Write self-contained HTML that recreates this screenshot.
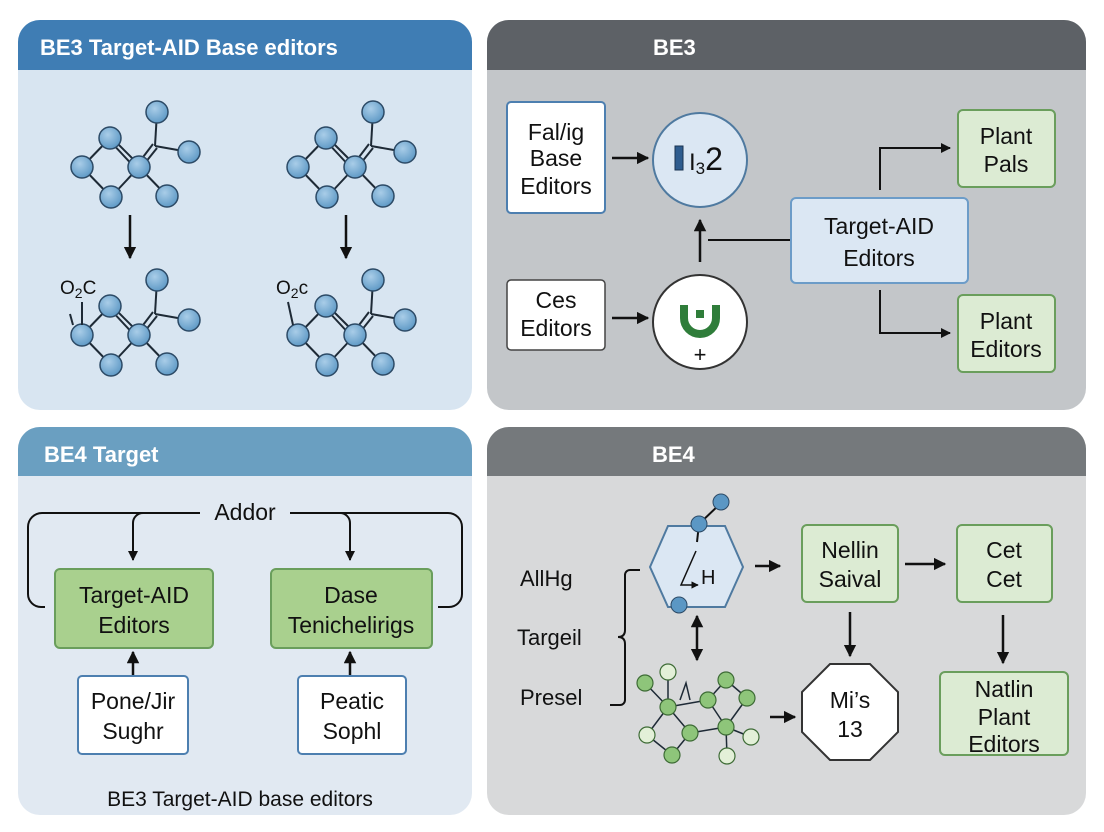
<!DOCTYPE html>
<html><head><meta charset="utf-8"><style>
body{margin:0;background:#fff;}
svg{display:block;}
text{font-family:"Liberation Sans",sans-serif;}
</style></head><body>
<svg width="1104" height="832" viewBox="0 0 1104 832" xmlns="http://www.w3.org/2000/svg">
<defs>
<marker id="ah" viewBox="0 0 10 10" refX="9" refY="5" markerWidth="5" markerHeight="5" orient="auto-start-reverse"><path d="M0,0 L10,5 L0,10 z" fill="#111"/></marker>
<radialGradient id="ab" cx="0.4" cy="0.35" r="0.7"><stop offset="0" stop-color="#a9cde8"/><stop offset="1" stop-color="#5b97c4"/></radialGradient>
<g id="mol">
<g stroke="#1e2a36" stroke-width="2" fill="none">
<line x1="82" y1="167" x2="110" y2="138"/>
<line x1="110" y1="136" x2="139" y2="165"/><line x1="110" y1="141" x2="137" y2="170"/>
<line x1="82" y1="167" x2="111" y2="197"/>
<line x1="111" y1="197" x2="139" y2="167"/>
<line x1="137" y1="165" x2="153" y2="144"/><line x1="141" y1="168" x2="157" y2="148"/>
<line x1="155" y1="146" x2="157" y2="112"/>
<line x1="155" y1="146" x2="189" y2="152"/>
<line x1="139" y1="167" x2="167" y2="196"/>
</g>
<g fill="url(#ab)" stroke="#2c4a66" stroke-width="1.5">
<circle cx="110" cy="138" r="11"/><circle cx="82" cy="167" r="11"/><circle cx="111" cy="197" r="11"/>
<circle cx="139" cy="167" r="11"/><circle cx="157" cy="112" r="11"/><circle cx="189" cy="152" r="11"/><circle cx="167" cy="196" r="11"/>
</g>
</g>
</defs>

<!-- TL panel -->
<rect x="18" y="20" width="454" height="390" rx="22" fill="#d8e5f1"/>
<path d="M18,70 V42 a22,22 0 0 1 22,-22 H450 a22,22 0 0 1 22,22 V70 z" fill="#3f7db4"/>
<text x="40" y="55" font-size="22" font-weight="bold" fill="#fff">BE3 Target-AID Base editors</text>
<use href="#mol"/>
<use href="#mol" x="216"/>
<use href="#mol" y="168"/>
<use href="#mol" x="216" y="168"/>
<line x1="70" y1="314" x2="73" y2="325" stroke="#1e2a36" stroke-width="2"/>
<line x1="82" y1="302" x2="82" y2="325" stroke="#1e2a36" stroke-width="2"/>
<line x1="288" y1="302" x2="293" y2="325" stroke="#1e2a36" stroke-width="2"/>
<text x="60" y="294" font-size="19" fill="#111">O<tspan font-size="14" dy="4">2</tspan><tspan dy="-4">C</tspan></text>
<text x="276" y="294" font-size="19" fill="#111">O<tspan font-size="14" dy="4">2</tspan><tspan dy="-4">c</tspan></text>
<line x1="130" y1="215" x2="130" y2="258" stroke="#111" stroke-width="2.5" marker-end="url(#ah)"/>
<line x1="346" y1="215" x2="346" y2="258" stroke="#111" stroke-width="2.5" marker-end="url(#ah)"/>

<!-- TR panel -->
<rect x="487" y="20" width="599" height="390" rx="22" fill="#c3c6c9"/>
<path d="M487,70 V42 a22,22 0 0 1 22,-22 H1064 a22,22 0 0 1 22,22 V70 z" fill="#5d6166"/>
<text x="653" y="55" font-size="22" font-weight="bold" fill="#fff">BE3</text>
<rect x="507" y="102" width="98" height="111" rx="4" fill="#fff" stroke="#4d7fb0" stroke-width="2"/>
<text font-size="23" fill="#111" text-anchor="middle"><tspan x="556" y="140">Fal/ig</tspan><tspan x="556" y="166">Base</tspan><tspan x="556" y="194">Editors</tspan></text>
<rect x="507" y="280" width="98" height="70" rx="4" fill="#fff" stroke="#444" stroke-width="1.5"/>
<text font-size="23" fill="#111" text-anchor="middle"><tspan x="556" y="308">Ces</tspan><tspan x="556" y="336">Editors</tspan></text>
<line x1="612" y1="158" x2="648" y2="158" stroke="#111" stroke-width="2.5" marker-end="url(#ah)"/>
<line x1="612" y1="318" x2="648" y2="318" stroke="#111" stroke-width="2.5" marker-end="url(#ah)"/>
<circle cx="700" cy="160" r="47" fill="#dbe7f3" stroke="#4f7aa0" stroke-width="2"/>
<rect x="675" y="146" width="8" height="24" fill="#2e5c8e" stroke="#1a3350"/>
<text x="689" y="170" font-size="24" fill="#111">I<tspan font-size="17" dy="4">3</tspan><tspan font-size="32" dy="-4">2</tspan></text>
<circle cx="700" cy="322" r="47" fill="#fff" stroke="#333" stroke-width="2"/>
<path d="M684,305 V318 a16,16 0 0 0 32,0 V305" fill="none" stroke="#2f7d3a" stroke-width="8"/>
<rect x="696" y="310" width="8" height="8" fill="#2f7d3a"/>
<text x="700" y="362" font-size="22" fill="#111" text-anchor="middle">+</text>
<line x1="700" y1="262" x2="700" y2="220" stroke="#111" stroke-width="2.5" marker-end="url(#ah)"/>
<line x1="708" y1="240" x2="791" y2="240" stroke="#111" stroke-width="2"/>
<rect x="791" y="198" width="177" height="85" rx="5" fill="#dbe7f3" stroke="#6c9cc8" stroke-width="2"/>
<text font-size="23" fill="#111" text-anchor="middle"><tspan x="879" y="234">Target-AID</tspan><tspan x="879" y="266">Editors</tspan></text>
<polyline points="880,190 880,148 950,148" fill="none" stroke="#111" stroke-width="2" marker-end="url(#ah)"/>
<polyline points="880,290 880,333 950,333" fill="none" stroke="#111" stroke-width="2" marker-end="url(#ah)"/>
<rect x="958" y="110" width="97" height="77" rx="5" fill="#dcebd3" stroke="#6a9e5c" stroke-width="2"/>
<text font-size="23" fill="#111" text-anchor="middle"><tspan x="1006" y="144">Plant</tspan><tspan x="1006" y="172">Pals</tspan></text>
<rect x="958" y="295" width="97" height="77" rx="5" fill="#dcebd3" stroke="#6a9e5c" stroke-width="2"/>
<text font-size="23" fill="#111" text-anchor="middle"><tspan x="1006" y="329">Plant</tspan><tspan x="1006" y="357">Editors</tspan></text>

<!-- BL panel -->
<rect x="18" y="427" width="454" height="388" rx="22" fill="#e1e9f2"/>
<path d="M18,476 V449 a22,22 0 0 1 22,-22 H450 a22,22 0 0 1 22,22 V476 z" fill="#6a9fc1"/>
<text x="44" y="462" font-size="22" font-weight="bold" fill="#fff">BE4 Target</text>
<text x="245" y="520" font-size="23" fill="#111" text-anchor="middle">Addor</text>
<path d="M200,513 H42 a14,14 0 0 0 -14,14 V594 a13,13 0 0 0 13,13 H45" fill="none" stroke="#111" stroke-width="2"/>
<path d="M290,513 H448 a14,14 0 0 1 14,14 V594 a13,13 0 0 1 -13,13 H438" fill="none" stroke="#111" stroke-width="2"/>
<path d="M143,513 a10,10 0 0 0 -10,10 V560" fill="none" stroke="#111" stroke-width="2" marker-end="url(#ah)"/>
<path d="M340,513 a10,10 0 0 1 10,10 V560" fill="none" stroke="#111" stroke-width="2" marker-end="url(#ah)"/>
<rect x="55" y="569" width="158" height="79" rx="5" fill="#a9d08e" stroke="#6a9e5c" stroke-width="2"/>
<text font-size="23" fill="#111" text-anchor="middle"><tspan x="134" y="603">Target-AID</tspan><tspan x="134" y="633">Editors</tspan></text>
<rect x="271" y="569" width="161" height="79" rx="5" fill="#a9d08e" stroke="#6a9e5c" stroke-width="2"/>
<text font-size="23" fill="#111" text-anchor="middle"><tspan x="351" y="603">Dase</tspan><tspan x="351" y="633">Tenichelirigs</tspan></text>
<line x1="133" y1="675" x2="133" y2="652" stroke="#111" stroke-width="2.5" marker-end="url(#ah)"/>
<line x1="350" y1="675" x2="350" y2="652" stroke="#111" stroke-width="2.5" marker-end="url(#ah)"/>
<rect x="78" y="676" width="110" height="78" rx="4" fill="#fff" stroke="#4d7fb0" stroke-width="2"/>
<text font-size="23" fill="#111" text-anchor="middle"><tspan x="133" y="709">Pone/Jir</tspan><tspan x="133" y="739">Sughr</tspan></text>
<rect x="298" y="676" width="108" height="78" rx="4" fill="#fff" stroke="#4d7fb0" stroke-width="2"/>
<text font-size="23" fill="#111" text-anchor="middle"><tspan x="352" y="709">Peatic</tspan><tspan x="352" y="739">Sophl</tspan></text>
<text x="240" y="806" font-size="21" fill="#111" text-anchor="middle">BE3 Target-AID base editors</text>

<!-- BR panel -->
<rect x="487" y="427" width="599" height="388" rx="22" fill="#d8d9da"/>
<path d="M487,476 V449 a22,22 0 0 1 22,-22 H1064 a22,22 0 0 1 22,22 V476 z" fill="#75797c"/>
<text x="652" y="462" font-size="22" font-weight="bold" fill="#fff">BE4</text>
<text x="520" y="586" font-size="22" fill="#111">AllHg</text>
<text x="517" y="645" font-size="22" fill="#111">Targeil</text>
<text x="520" y="705" font-size="22" fill="#111">Presel</text>
<path d="M640,570 H630 a5,5 0 0 0 -5,5 V630 q0,7 -7,7 q7,0 7,7 V700 a5,5 0 0 1 -5,5 H610" fill="none" stroke="#111" stroke-width="2"/>
<polygon points="650,567 668,526 725,526 743,567 725,607 668,607" fill="#dbe7f3" stroke="#4f7aa0" stroke-width="2"/>
<line x1="699" y1="524" x2="721" y2="503" stroke="#111" stroke-width="2"/>
<line x1="699" y1="524" x2="697" y2="542" stroke="#111" stroke-width="2"/>
<circle cx="699" cy="524" r="8" fill="#5b97c4" stroke="#2c4a66"/>
<circle cx="721" cy="502" r="8" fill="#5b97c4" stroke="#2c4a66"/>
<circle cx="679" cy="605" r="8" fill="#5b97c4" stroke="#2c4a66"/>
<polyline points="696,551 681,585 698,585" fill="none" stroke="#111" stroke-width="1.5" marker-end="url(#ah)"/>
<text x="701" y="584" font-size="20" fill="#111">H</text>
<line x1="755" y1="566" x2="780" y2="566" stroke="#111" stroke-width="2.5" marker-end="url(#ah)"/>
<rect x="802" y="525" width="96" height="77" rx="5" fill="#dcebd3" stroke="#6a9e5c" stroke-width="2"/>
<text font-size="23" fill="#111" text-anchor="middle"><tspan x="850" y="558">Nellin</tspan><tspan x="850" y="587">Saival</tspan></text>
<line x1="905" y1="564" x2="945" y2="564" stroke="#111" stroke-width="2.5" marker-end="url(#ah)"/>
<rect x="957" y="525" width="95" height="77" rx="5" fill="#dcebd3" stroke="#6a9e5c" stroke-width="2"/>
<text font-size="23" fill="#111" text-anchor="middle"><tspan x="1004" y="558">Cet</tspan><tspan x="1004" y="587">Cet</tspan></text>
<line x1="850" y1="612" x2="850" y2="656" stroke="#111" stroke-width="2.5" marker-end="url(#ah)"/>
<line x1="1003" y1="615" x2="1003" y2="663" stroke="#111" stroke-width="2.5" marker-end="url(#ah)"/>
<polygon points="830,664 870,664 898,692 898,732 870,760 830,760 802,732 802,692" fill="#fff" stroke="#333" stroke-width="2"/>
<text font-size="23" fill="#111" text-anchor="middle"><tspan x="850" y="708">Mi’s</tspan><tspan x="850" y="737">13</tspan></text>
<rect x="940" y="672" width="128" height="83" rx="5" fill="#dcebd3" stroke="#6a9e5c" stroke-width="2"/>
<text font-size="23" fill="#111" text-anchor="middle"><tspan x="1004" y="697">Natlin</tspan><tspan x="1004" y="725">Plant</tspan><tspan x="1004" y="752">Editors</tspan></text>
<line x1="697" y1="616" x2="697" y2="660" stroke="#111" stroke-width="2.5" marker-start="url(#ah)" marker-end="url(#ah)"/>
<line x1="770" y1="717" x2="795" y2="717" stroke="#111" stroke-width="2.5" marker-end="url(#ah)"/>
<g stroke="#1e2a36" stroke-width="1.5">
<line x1="645" y1="683" x2="668" y2="707"/><line x1="668" y1="672" x2="668" y2="707"/>
<line x1="668" y1="707" x2="647" y2="735"/><line x1="668" y1="707" x2="690" y2="733"/>
<line x1="690" y1="733" x2="672" y2="755"/><line x1="668" y1="707" x2="708" y2="700"/>
<line x1="708" y1="700" x2="726" y2="680"/><line x1="708" y1="700" x2="726" y2="727"/>
<line x1="726" y1="680" x2="747" y2="698"/><line x1="747" y1="698" x2="726" y2="727"/>
<line x1="726" y1="727" x2="727" y2="756"/><line x1="726" y1="727" x2="751" y2="737"/>
<line x1="690" y1="733" x2="726" y2="727"/><line x1="647" y1="735" x2="672" y2="755"/>
<polyline points="680,700 686,683 690,700" fill="none"/>
</g>
<g stroke="#3d6b35" stroke-width="1.2">
<circle cx="668" cy="672" r="8" fill="#e3f0d8"/><circle cx="647" cy="735" r="8" fill="#e3f0d8"/>
<circle cx="727" cy="756" r="8" fill="#e3f0d8"/><circle cx="751" cy="737" r="8" fill="#e3f0d8"/>
<circle cx="645" cy="683" r="8" fill="#8ec57a"/><circle cx="668" cy="707" r="8" fill="#8ec57a"/>
<circle cx="690" cy="733" r="8" fill="#8ec57a"/><circle cx="672" cy="755" r="8" fill="#8ec57a"/>
<circle cx="708" cy="700" r="8" fill="#8ec57a"/><circle cx="726" cy="680" r="8" fill="#8ec57a"/>
<circle cx="747" cy="698" r="8" fill="#8ec57a"/><circle cx="726" cy="727" r="8" fill="#8ec57a"/>
</g>
</svg>
</body></html>
